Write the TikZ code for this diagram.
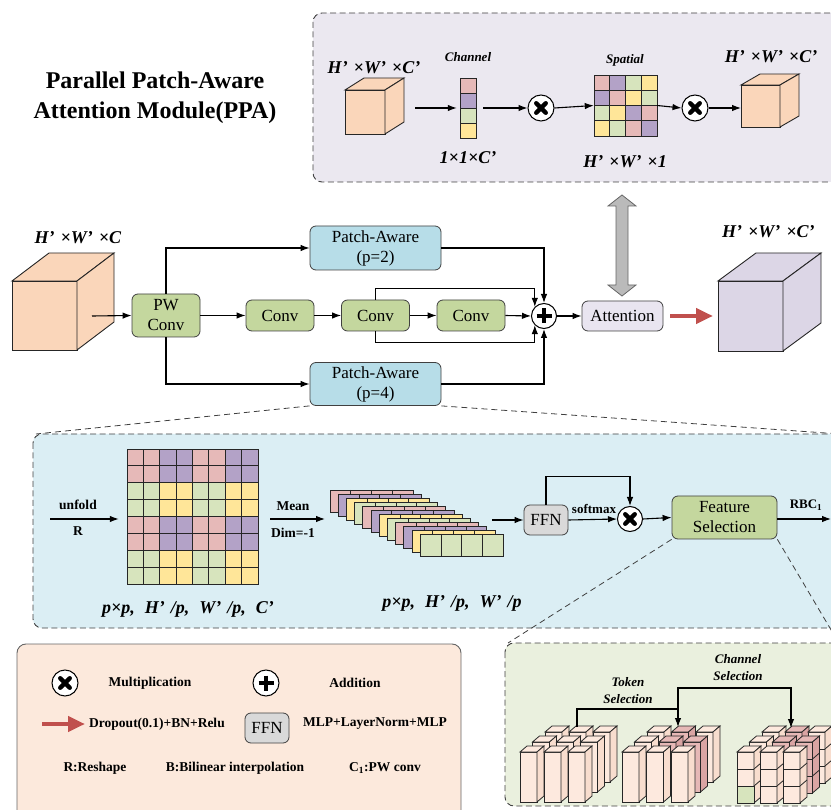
\documentclass[tikz,border=0pt]{standalone}
\usepackage{fontspec}
\setmainfont{Liberation Serif}
\usetikzlibrary{arrows.meta,calc}
\definecolor{c0}{HTML}{E6B9B8}
\definecolor{c1}{HTML}{B3A2C7}
\definecolor{c2}{HTML}{D7E4BD}
\definecolor{c3}{HTML}{FFE699}
\definecolor{peach}{HTML}{FAD6BA}
\definecolor{lav}{HTML}{DCD6E6}
\definecolor{toppanel}{HTML}{EBE8F0}
\definecolor{bluepanel}{HTML}{DBEEF4}
\definecolor{greenpanel}{HTML}{EAF0DE}
\definecolor{legpanel}{HTML}{FCE9DC}
\definecolor{boxgreen}{HTML}{C4D79E}
\definecolor{boxblue}{HTML}{B7DDE8}
\definecolor{attc}{HTML}{E9E5F0}
\definecolor{ffnc}{HTML}{D9D9D9}
\definecolor{redc}{HTML}{C0504D}
\definecolor{tokf0}{HTML}{FDE9DE}
\definecolor{toks0}{HTML}{F8DDCE}
\definecolor{tokf1}{HTML}{E6B8B6}
\definecolor{toks1}{HTML}{DAA4A3}
\newcommand{\fsz}[1]{\fontsize{#1}{#1}\selectfont}
\newcommand{\pp}{’\hspace{6pt}}
\tikzset{
 box/.style={draw=black!75, line width=0.8pt, rounded corners=6pt, align=center, inner sep=0pt, font=\fontsize{17}{20}\selectfont},
 arr/.style={draw=black, line width=1.1pt, -{Latex[length=9pt,width=6.5pt]}},
 panel/.style={draw=black!75, line width=0.9pt, dash pattern=on 6pt off 3.5pt, rounded corners=9pt},
 zoomline/.style={draw=black!75, line width=0.8pt, dash pattern=on 6pt off 4pt},
 opc/.style={circle, draw=black, line width=1pt, fill=white, minimum size=26pt, inner sep=0pt},
 lbl/.style={font=\fsz{18}\bfseries\itshape, inner sep=0pt},
 small/.style={font=\fsz{13.5}\bfseries, inner sep=0pt},
 smallit/.style={font=\fsz{13}\bfseries\itshape, inner sep=0pt},
 redarr/.style={draw=redc, line width=4.5pt, -{Triangle[length=17pt,width=15pt]}},
 cell/.style={draw=black!85, line width=0.8pt},
 hole/.style={inner sep=0pt, draw=none},
}
\newcommand{\mulmark}[1]{%
 \draw[line width=4.3pt, line cap=round] ([shift={(-4.8,-4.8)}]#1.center) -- ([shift={(4.8,4.8)}]#1.center);
 \draw[line width=4.3pt, line cap=round] ([shift={(-4.8,4.8)}]#1.center) -- ([shift={(4.8,-4.8)}]#1.center);}
\newcommand{\plusmark}[1]{%
 \draw[line width=4.6pt] ([shift={(-7.5,0)}]#1.center) -- ([shift={(7.5,0)}]#1.center);
 \draw[line width=4.6pt] ([shift={(0,-7.5)}]#1.center) -- ([shift={(0,7.5)}]#1.center);}
\newcommand{\cubeshape}[7]{%
 \begin{scope}[shift={(#1,#2)}]
 \filldraw[fill=#7, draw=black!85, line width=0.9pt] (0,0) rectangle (#3,#4);
 \filldraw[fill=#7, draw=black!85, line width=0.9pt] (0,0) -- (#5,-#6) -- ({#3+#5},-#6) -- (#3,0) -- cycle;
 \filldraw[fill=#7, draw=black!85, line width=0.9pt] (#3,0) -- ({#3+#5},-#6) -- ({#3+#5},{#4-#6}) -- (#3,#4) -- cycle;
 \end{scope}}
\newcommand{\prism}[4]{%
 \filldraw[cell, fill=#3] (#1,#2) rectangle ++(17,50);
 \filldraw[cell, fill=#3] (#1,#2) -- ++(7,-6) -- ++(17,0) -- ++(-7,6) -- cycle;
 \filldraw[cell, fill=#4] ({#1+17},#2) -- ++(7,-6) -- ++(0,50) -- ++(-7,6) -- cycle;}
\newcommand{\cubecol}[4]{%
 \filldraw[cell, fill=#3] (#1,#2) rectangle ++(17,51);
 \draw[cell] (#1,{#2+17}) -- ++(17,0);
 \draw[cell] (#1,{#2+34}) -- ++(17,0);
 \filldraw[cell, fill=#3] (#1,#2) -- ++(7,-6) -- ++(17,0) -- ++(-7,6) -- cycle;
 \filldraw[cell, fill=#4] ({#1+17},#2) -- ++(7,-6) -- ++(0,51) -- ++(-7,6) -- cycle;
 \draw[cell] ({#1+17},{#2+17}) -- ++(7,-6);
 \draw[cell] ({#1+17},{#2+34}) -- ++(7,-6);}
\begin{document}
\begin{tikzpicture}[x=1pt,y=-1pt]
\useasboundingbox (0,0) rectangle (831,810);
% ---------- title
\node[font=\fontsize{24}{30}\selectfont\bfseries, align=center, inner sep=0pt] (title) at (155,98) {Parallel Patch-Aware\\Attention Module(PPA)};
% ---------- top panel
\draw[panel, fill=toppanel] (313,13) rectangle (850,182);
\cubeshape{345}{90}{40}{44}{19}{12}{peach}
\node[lbl] (t1) at (374,68) {H\pp×W\pp×C’};
\coordinate (a1s) at (415,108);
\foreach \i in {0,...,3} \filldraw[cell, fill=c\i] (460,{78+15*\i}) rectangle ++(16,15);
\node[hole, minimum width=16pt, minimum height=60pt] (chcol) at (468,108) {};
\draw[arr, shorten >=3pt] (a1s) -- (chcol.west);
\node[smallit] (chl) at (468,57) {Channel};
\node[lbl] (chd) at (468,158) {1×1×C’};
\node[opc] (m1) at (541,108) {};
\mulmark{m1}
\draw[arr] ([xshift=7pt]chcol.east) -- (m1.west);
\foreach \k [count=\n from 0] in {0,1,2,3,1,0,3,2,2,3,1,0,3,2,0,1}{
 \pgfmathtruncatemacro\rr{int(\n/4)}
 \pgfmathtruncatemacro\cc{mod(\n,4)}
 \filldraw[cell, fill=c\k] ({594+15.75*\cc},{75+15.25*\rr}) rectangle ++(15.75,15.25);}
\node[hole, minimum width=63pt, minimum height=61pt] (spg) at (625.5,105.5) {};
\node[smallit] (spl) at (625,60) {Spatial};
\node[lbl] (spd) at (625,162) {H\pp×W\pp×1};
\draw[arr] (m1.east) -- (spg.west);
\node[opc] (m2) at (695,108) {};
\mulmark{m2}
\draw[arr] (spg.east) -- (m2.west);
\cubeshape{741}{85}{39}{42}{19}{11}{peach}
\coordinate (cube2w) at (741,108);
\draw[arr] (m2.east) -- (cube2w);
\node[lbl] (t2) at (771,57) {H\pp×W\pp×C’};
% ---------- middle row
\cubeshape{12}{281}{65}{69}{37}{28}{peach}
\node[lbl] (t3) at (78,238) {H\pp×W\pp×C};
\node[box, fill=boxgreen, minimum width=68pt, minimum height=43pt] (pw) at (166,315.5) {PW\\Conv};
\coordinate (inA) at (92,316);
\draw[arr] (inA) -- (pw.west);
\node[box, fill=boxblue, minimum width=131pt, minimum height=44pt] (pa2) at (375.5,248) {Patch-Aware\\(p=2)};
\node[box, fill=boxblue, minimum width=131pt, minimum height=43pt] (pa4) at (375.5,384) {Patch-Aware\\(p=4)};
\node[box, fill=boxgreen, minimum width=68pt, minimum height=31pt] (cv1) at (280,315.5) {Conv};
\node[box, fill=boxgreen, minimum width=68pt, minimum height=31pt] (cv2) at (375.5,315.5) {Conv};
\node[box, fill=boxgreen, minimum width=68pt, minimum height=31pt] (cv3) at (471,315.5) {Conv};
\node[opc, minimum size=25pt] (pl) at (544,316) {};
\plusmark{pl}
\node[box, fill=attc, minimum width=81pt, minimum height=30pt] (att) at (622.5,316) {Attention};
\draw[arr] (pw.north) |- (pa2.west);
\draw[arr] (pw.south) |- (pa4.west);
\draw[arr] (pw.east) -- (cv1.west);
\draw[arr] (cv1.east) -- (cv2.west);
\draw[arr] (cv2.east) -- (cv3.west);
\draw[arr] (cv3.east) -- (pl.west);
\draw[arr] (cv2.north) -- ++(0,-11) -| (pl.135);
\draw[arr] (cv2.south) -- ++(0,11) -| (pl.225);
\draw[arr] (pa2.east) -| (pl.north);
\draw[arr] (pa4.east) -| (pl.south);
\draw[arr] (pl.east) -- (att.west);
\cubeshape{718}{281}{65}{70}{38}{28}{lav}
\coordinate (cube3w) at (713,316);
\draw[redarr] ([xshift=7pt]att.east) -- (cube3w);
\node[lbl, anchor=west] (t4) at (722,232) {H\pp×W\pp×C’};
% gray double arrow
\filldraw[fill=black!27, draw=black!60, line width=0.8pt] (622,195) -- (636,206) -- (628,206) -- (628,285) -- (636,285) -- (622,296) -- (608,285) -- (616,285) -- (616,206) -- (608,206) -- cycle;
% ---------- zoom lines to blue panel
\draw[zoomline] (pa4.south west) -- (36,434);
\draw[zoomline] (pa4.south east) -- (840,434);
% ---------- blue panel
\draw[panel, fill=bluepanel] (33,434) rectangle (850,628);
\coordinate (u0) at (50,519);
\foreach \r in {0,...,7}{\foreach \c in {0,...,7}{
 \pgfmathtruncatemacro\k{2*mod(int(\r/2),2)+mod(int(\c/2),2)}
 \filldraw[cell, fill=c\k] ({127+16.375*\c},{449+16.875*\r}) rectangle ++(16.375,16.875);}}
\node[hole, minimum width=131pt, minimum height=135pt] (bg) at (192.5,516.5) {};
\draw[arr, shorten >=8pt] (u0) -- (bg.west |- u0);
\node[small] (unf) at (78,505) {unfold};
\node[small] (rr) at (78,531) {R};
\coordinate (mn1) at (325,519);
\draw[arr] ([xshift=12pt]bg.east |- u0) -- (mn1);
\node[small] (mean) at (293,506) {Mean};
\node[small] (dim) at (293,533) {Dim=-1};
\node[lbl] (d1) at (188,609) {p×p,\hspace{10pt}H\pp/p,\hspace{10pt}W\pp/p,\hspace{10pt}C’};
\foreach \k [count=\i from 0] in {0,1,3,2,0,1,3,2,0,1,3,2}{
 \filldraw[cell, fill=c\k] ({330+8.2*\i},{490+4*\i}) rectangle ++(83,22);
 \foreach \j in {1,2,3} \draw[cell] ({330+8.2*\i+20.75*\j},{490+4*\i}) -- ++(0,22);}
\node[lbl] (d2) at (452,603) {p×p,\hspace{10pt}H\pp/p,\hspace{10pt}W\pp/p};
\node[box, fill=ffnc, minimum width=44pt, minimum height=30pt] (ffn) at (546,520) {FFN};
\coordinate (sl) at (492,520);
\draw[arr] (sl) -- (ffn.west);
\node[opc, minimum size=25pt] (m3) at (630,519) {};
\mulmark{m3}
\draw[arr] (ffn.east) -- (m3.west);
\node[small, font=\fsz{13}\bfseries] (smx) at (594,509) {softmax};
\draw[arr] (ffn.north) -- ++(0,-28) -| (m3.north);
\node[box, fill=boxgreen, minimum width=105pt, minimum height=43pt] (fs) at (724.5,517.5) {Feature\\Selection};
\draw[arr] (m3.east) -- (fs.west);
\coordinate (rbc) at (831,519);
\draw[arr] (fs.east |- rbc) -- (rbc);
\node[small, font=\fsz{13}\bfseries] (rbcl) at (806,505) {RBC\textsubscript{1}};
% ---------- zoom lines to green panel
\draw[zoomline] (fs.south west) -- (508,643);
\draw[zoomline] (fs.south east) -- (840,645);
% ---------- green panel
\draw[panel, fill=greenpanel] (505,643) rectangle (850,806);
% left group
\foreach \rr in {2,1,0}{\foreach \c in {0,1,2}{
 \pgfmathsetmacro\px{520+12.5*\rr+24*\c}
 \pgfmathsetmacro\py{752-10*\rr}
 \prism{\px}{\py}{tokf0}{toks0}}}
% middle group
\foreach \rr in {2,1,0}{\foreach \c in {0,1,2}{
 \pgfmathsetmacro\px{622+12.5*\rr+24.5*\c}
 \pgfmathsetmacro\py{752-10*\rr}
 \pgfmathtruncatemacro\pk{(\rr==2 && \c==1) || (\rr==1 && \c>0)}
 \prism{\px}{\py}{tokf\pk}{toks\pk}}}
% right group
\foreach \rr in {2,1,0}{\foreach \c in {0,1,2}{
 \pgfmathsetmacro\px{737+12.5*\rr+23*\c}
 \pgfmathsetmacro\py{752-10*\rr}
 \pgfmathtruncatemacro\pk{(\rr==2 && \c==1) || (\rr==1 && \c>0)}
 \cubecol{\px}{\py}{tokf\pk}{toks\pk}}}
\filldraw[cell, fill=c2] (737,786) rectangle ++(17,17);
\coordinate (tokA) at (577,727);
\coordinate (tokB) at (678,727);
\coordinate (chB) at (791,728);
\coordinate (tj) at (678,709);
\draw[arr] (tokA) |- (tj) -- (tokB);
\draw[arr] (tj) -- ++(0,-21) -| (chB);
\node[smallit, align=center, font=\fontsize{13}{17}\selectfont\bfseries\itshape] (tsel) at (628,691) {Token\\Selection};
\node[smallit, align=center, font=\fontsize{13}{17}\selectfont\bfseries\itshape] (csel) at (738,668) {Channel\\Selection};
% ---------- legend
\draw[draw=black!60, line width=0.9pt, fill=legpanel, rounded corners=9pt] (17,644) rectangle (461,830);
\node[opc] (lm) at (65,683) {};
\mulmark{lm}
\node[small] (lmt) at (150,683) {Multiplication};
\node[opc] (lp) at (266,683) {};
\plusmark{lp}
\node[small] (lpt) at (355,683) {Addition};
\coordinate (lrA) at (42,724);
\coordinate (lrB) at (85,724);
\draw[redarr] (lrA) -- (lrB);
\node[small] (lrt) at (157,724) {Dropout(0.1)+BN+Relu};
\node[box, fill=ffnc, minimum width=44pt, minimum height=30pt] (ffnL) at (267,728) {FFN};
\node[small] (lft) at (375,724) {MLP+LayerNorm+MLP};
\node[small] (l1) at (95,768) {R:Reshape};
\node[small] (l2) at (235,768) {B:Bilinear interpolation};
\node[small] (l3) at (385,768) {C\textsubscript{1}:PW conv};
\end{tikzpicture}
\end{document}
